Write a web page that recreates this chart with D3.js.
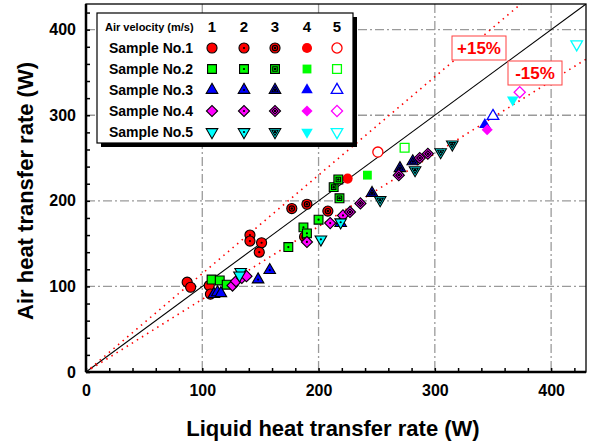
<!DOCTYPE html>
<html>
<head>
<meta charset="utf-8">
<script src="https://cdn.jsdelivr.net/npm/d3@7"></script>
<style>
  body { margin: 0; background: #fff; }
  text { font-family: "Liberation Sans", Arial, sans-serif; font-weight: bold; }
</style>
</head>
<body>
<div id="wrapper"></div>
<script>
// rows are [air velocity, liquid Q, air Q]
const sample1 = [
  [1, 87, 105], [1, 90, 99], [1, 106, 101], [1, 107, 91],
  [2, 141, 160], [2, 141, 153], [2, 151, 151], [2, 149, 140],
  [3, 177, 191], [3, 190, 196], [3, 208, 188], [3, 188, 158],
  [4, 225, 226],
  [5, 251, 257]
];
const sample2 = [
  [1, 108, 108], [1, 115, 107], [1, 121, 102],
  [2, 174, 146], [2, 187, 169], [2, 190, 162], [2, 200, 178],
  [3, 213, 216], [3, 217, 225], [3, 218, 203],
  [4, 242, 230],
  [5, 274, 262]
];
const sample3 = [
  [1, 110, 91], [1, 113, 93], [1, 116, 92],
  [2, 148, 108], [2, 158, 119], [2, 219, 174],
  [3, 246, 209], [3, 270, 238], [3, 281, 246],
  [4, 343, 289],
  [5, 350, 299]
];
const sample4 = [
  [1, 126, 101], [1, 129, 106], [1, 134, 110], [1, 138, 112],
  [2, 190, 152], [2, 210, 174], [2, 221, 183],
  [3, 227, 187], [3, 236, 197], [3, 269, 230], [3, 287, 250], [3, 294, 255],
  [4, 345, 283],
  [5, 373, 327]
];
const sample5 = [
  [1, 133, 117], [1, 132, 113],
  [2, 202, 155], [2, 219, 175],
  [3, 253, 201], [3, 283, 236], [3, 305, 257], [3, 315, 266],
  [4, 367, 318],
  [5, 422, 383]
];

const sampleNames = ["Sample No.1", "Sample No.2", "Sample No.3", "Sample No.4", "Sample No.5"];
const sampleColors = ["#ff0000", "#00ff00", "#0000ff", "#ff00ff", "#00ffff"];
const velocities = [1, 2, 3, 4, 5];
const majorTicks = [0, 100, 200, 300, 400];
const bands = [1.15, 0.85];
const bandLabels = ["+15%", "-15%"];

const samples = [sample1, sample2, sample3, sample4, sample5];

const width = 590
let dimensions = {
    width: width,
    height: 444,
    margin: { top: 4, right: 4, bottom: 72, left: 86 },
}
dimensions.boundedWidth = dimensions.width - dimensions.margin.left - dimensions.margin.right
dimensions.boundedHeight = dimensions.height - dimensions.margin.top - dimensions.margin.bottom

const wrapper = d3.select("#wrapper")
    .append("svg")
    .attr("width", dimensions.width)
    .attr("height", dimensions.height);

const bounds = wrapper.append("g")
    .attr("transform", `translate(${dimensions.margin.left},${dimensions.margin.top})`);

const xScaler = d3.scaleLinear().domain([0, 430]).range([0, dimensions.boundedWidth])
const yScaler = d3.scaleLinear().domain([0, 430]).range([dimensions.boundedHeight, 0])

bounds.append("clipPath").attr("id", "clip")
    .append("rect")
    .attr("width", dimensions.boundedWidth)
    .attr("height", dimensions.boundedHeight);

// grid
const grid = bounds.append("g");
grid.selectAll(".gx")
    .data(majorTicks.slice(1))
    .join("line")
    .attr("x1", d => xScaler(d)).attr("x2", d => xScaler(d))
    .attr("y1", 0).attr("y2", dimensions.boundedHeight)
    .attr("stroke", "#9a9a9a").attr("stroke-width", 1.3)
    .attr("stroke-dasharray", "9 3 2 3");
grid.selectAll(".gy")
    .data(majorTicks.slice(1))
    .join("line")
    .attr("y1", d => yScaler(d)).attr("y2", d => yScaler(d))
    .attr("x1", 0).attr("x2", dimensions.boundedWidth)
    .attr("stroke", "#9a9a9a").attr("stroke-width", 1.3)
    .attr("stroke-dasharray", "9 3 2 3");

// reference lines
const lines = bounds.append("g").attr("clip-path", "url(#clip)");
lines.append("line")
    .attr("x1", xScaler(0)).attr("y1", yScaler(0))
    .attr("x2", xScaler(430)).attr("y2", yScaler(430))
    .attr("stroke", "black").attr("stroke-width", 1.1);
lines.selectAll(".band")
    .data(bands)
    .join("line")
    .attr("x1", xScaler(0)).attr("y1", yScaler(0))
    .attr("x2", xScaler(430)).attr("y2", d => yScaler(430 * d))
    .attr("stroke", "#ff0000").attr("stroke-width", 1.6)
    .attr("stroke-dasharray", "1.5 4.5");

// markers
const shapes = [
    d3.symbol(d3.symbolCircle, 80),
    d3.symbol(d3.symbolSquare, 78),
    d3.symbol(d3.symbolTriangle, 58),
    d3.symbol(d3.symbolSquare, 62),
    d3.symbol(d3.symbolTriangle, 58),
];
const rotations = [0, 0, 0, 45, 180];
const innerShapes = [
    d3.symbol(d3.symbolCircle, 22),
    d3.symbol(d3.symbolSquare, 20),
    d3.symbol(d3.symbolTriangle, 16),
    d3.symbol(d3.symbolSquare, 18),
    d3.symbol(d3.symbolTriangle, 16),
];

function drawMarker(g, s, v) {
    const col = sampleColors[s];
    const rot = `rotate(${rotations[s]})`;
    const base = g.append("path").attr("d", shapes[s]()).attr("transform", rot);
    if (v == 4) {
        base.attr("fill", col).attr("stroke", "none");
    } else if (v == 5) {
        base.attr("fill", "white").attr("stroke", col).attr("stroke-width", 1.3);
    } else {
        base.attr("fill", col).attr("stroke", "black").attr("stroke-width", 1.1);
    }
    if (v == 3) {
        g.append("path").attr("d", innerShapes[s]()).attr("transform", rot)
            .attr("fill", "none").attr("stroke", "black").attr("stroke-width", 1.1);
    }
    if (v == 2 || v == 3) {
        g.append("circle").attr("r", v == 2 ? 1.1 : 1.3).attr("fill", "black");
    }
}

const points = bounds.append("g");
samples.forEach((rows, s) => {
    rows.forEach(d => {
        const g = points.append("g")
            .attr("transform", `translate(${xScaler(d[1])},${yScaler(d[2])})`);
        drawMarker(g, s, d[0]);
    });
});

// frame + axes
bounds.append("rect")
    .attr("width", dimensions.boundedWidth).attr("height", dimensions.boundedHeight)
    .attr("fill", "none").attr("stroke", "black").attr("stroke-width", 1.3);
bounds.append("line").attr("x1", 0).attr("x2", dimensions.boundedWidth)
    .attr("y1", dimensions.boundedHeight).attr("y2", dimensions.boundedHeight)
    .attr("stroke", "black").attr("stroke-width", 2.5);
bounds.append("line").attr("x1", 0).attr("x2", 0)
    .attr("y1", 0).attr("y2", dimensions.boundedHeight)
    .attr("stroke", "black").attr("stroke-width", 2.5);

const xAxisGen = d3.axisBottom(xScaler).tickValues(d3.range(0, 430, 20))
    .tickSize(-4).tickFormat(d => majorTicks.includes(d) ? d : "");
const xAxis = bounds.append("g")
    .attr("transform", `translate(0,${dimensions.boundedHeight})`)
    .call(xAxisGen);
const yAxisGen = d3.axisLeft(yScaler).tickValues(d3.range(0, 430, 20))
    .tickSize(-4).tickFormat(d => majorTicks.includes(d) ? d : "");
const yAxis = bounds.append("g").call(yAxisGen);
[xAxis, yAxis].forEach(a => {
    a.select(".domain").remove();
    a.selectAll(".tick line").attr("stroke-width", 1.5);
    a.selectAll(".tick text").attr("font-size", "16px").attr("fill", "black");
});
xAxis.selectAll(".tick text").attr("dy", "0.71em").attr("y", 13);
yAxis.selectAll(".tick text").attr("x", -10);

// axis titles
wrapper.append("text")
    .attr("x", 333).attr("y", 436)
    .attr("text-anchor", "middle").attr("font-size", "22px")
    .text("Liquid heat transfer rate (W)");
wrapper.append("text")
    .attr("transform", "translate(33,191) rotate(-90)")
    .attr("text-anchor", "middle").attr("font-size", "22px")
    .text("Air heat transfer rate (W)");

// band labels
const bandPos = [[452, 36], [508, 61]];
bandLabels.forEach((t, i) => {
    const g = wrapper.append("g").attr("transform", `translate(${bandPos[i][0]},${bandPos[i][1]})`);
    g.append("rect").attr("width", 54).attr("height", 24)
        .attr("fill", "white").attr("stroke", "#ff4040").attr("stroke-width", 1);
    g.append("text").attr("x", 27).attr("y", 18).attr("text-anchor", "middle")
        .attr("font-size", "17px").attr("fill", "#ff0000").text(t);
});

// legend
const legend = wrapper.append("g").attr("transform", "translate(97,13)");
legend.append("rect").attr("x", 4).attr("y", 4).attr("width", 256).attr("height", 130).attr("fill", "black");
legend.append("rect").attr("width", 256).attr("height", 130)
    .attr("fill", "white").attr("stroke", "black").attr("stroke-width", 1.2);
legend.append("text").attr("x", 8).attr("y", 18).attr("font-size", "11px").text("Air velocity (m/s)");
const colX = [115, 147, 178, 210, 240];
velocities.forEach((v, j) => {
    legend.append("text").attr("x", colX[j]).attr("y", 19).attr("text-anchor", "middle")
        .attr("font-size", "15px").text(v);
});
sampleNames.forEach((name, i) => {
    const y = 35 + i * 21;
    legend.append("text").attr("x", 12).attr("y", y + 5).attr("font-size", "14px").text(name);
    velocities.forEach((v, j) => {
        const g = legend.append("g").attr("transform", `translate(${colX[j]},${y})`);
        drawMarker(g, i, v);
    });
});
</script>
</body>
</html>
